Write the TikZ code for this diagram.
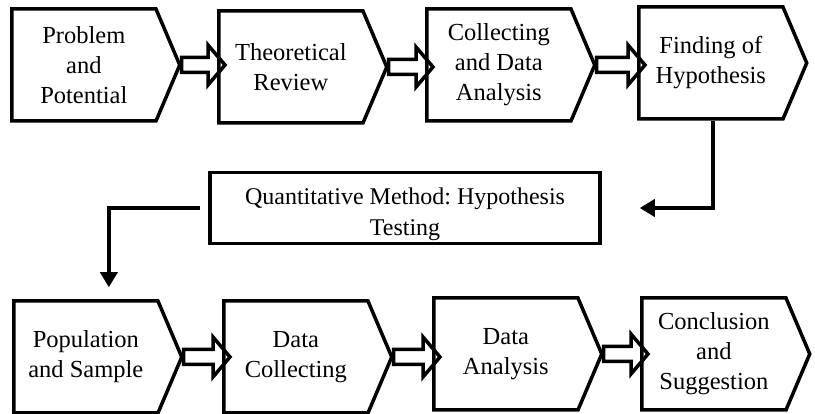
\documentclass[tikz,border=0pt]{standalone}
\usepackage{fontspec}
\setmainfont{Liberation Serif}
\usetikzlibrary{shapes.symbols,calc,arrows.meta}
\frenchspacing

% hollow block arrow from one stage to the next
\newcommand{\hollowarrow}[2]{%
\draw[blockarrow] let \p1=(#1.east), \p2=(#2.west) in
  (\x1,{\y1+7.5pt}) -- ({\x2-9pt},{\y1+7.5pt}) -- ({\x2-9pt},{\y1+20pt}) --
  ({\x2+8pt},\y1) -- ({\x2-9pt},{\y1-20pt}) -- ({\x2-9pt},{\y1-7.5pt}) --
  (\x1,{\y1-7.5pt}) -- cycle;}

\begin{document}
\begin{tikzpicture}[x=1pt,y=-1pt,
  stage/.style={draw, line width=3.5pt, signal, signal to=east, signal pointer angle=134,
    minimum width=168pt, minimum height=112pt, inner sep=0pt, align=center, anchor=west,
    font=\fontsize{24.5}{30}\selectfont},
  method/.style={draw, line width=3.5pt, rectangle, minimum width=390pt, minimum height=71pt,
    inner sep=0pt, align=center, font=\fontsize{24}{31}\selectfont},
  blockarrow/.style={line width=3.5pt},
  flowline/.style={line width=3.5pt, -{Triangle[length=15pt,width=17pt]}}]
\useasboundingbox (0,0) rectangle (815,414);
\node[stage] (pp) at (10,65) {Problem\\and\\Potential};
\node[stage] (tr) at (217,67) {Theoretical\\Review};
\node[stage] (cd) at (425,65) {Collecting\\and Data\\Analysis};
\node[stage] (fh) at (637,63) {Finding of\\Hypothesis};
\node[method] (qm) at (405,208) {\rule{0pt}{30pt}Quantitative Method: Hypothesis\\Testing};
\node[stage] (ps) at (12,357) {Population\\and Sample};
\node[stage] (dc) at (222,357) {Data\\Collecting};
\node[stage] (da) at (432,354) {Data\\Analysis};
\node[stage] (cs) at (640,354) {Conclusion\\and\\Suggestion};
\hollowarrow{pp}{tr}
\hollowarrow{tr}{cd}
\hollowarrow{cd}{fh}
\hollowarrow{ps}{dc}
\hollowarrow{dc}{da}
\hollowarrow{da}{cs}
\draw[flowline] ([xshift=2pt]fh.south) |- ([xshift=38pt]qm.east);
\draw[flowline] ([xshift=-8pt]qm.west) -| ([xshift=23pt,yshift=12pt]ps.north);
\end{tikzpicture}
\end{document}
